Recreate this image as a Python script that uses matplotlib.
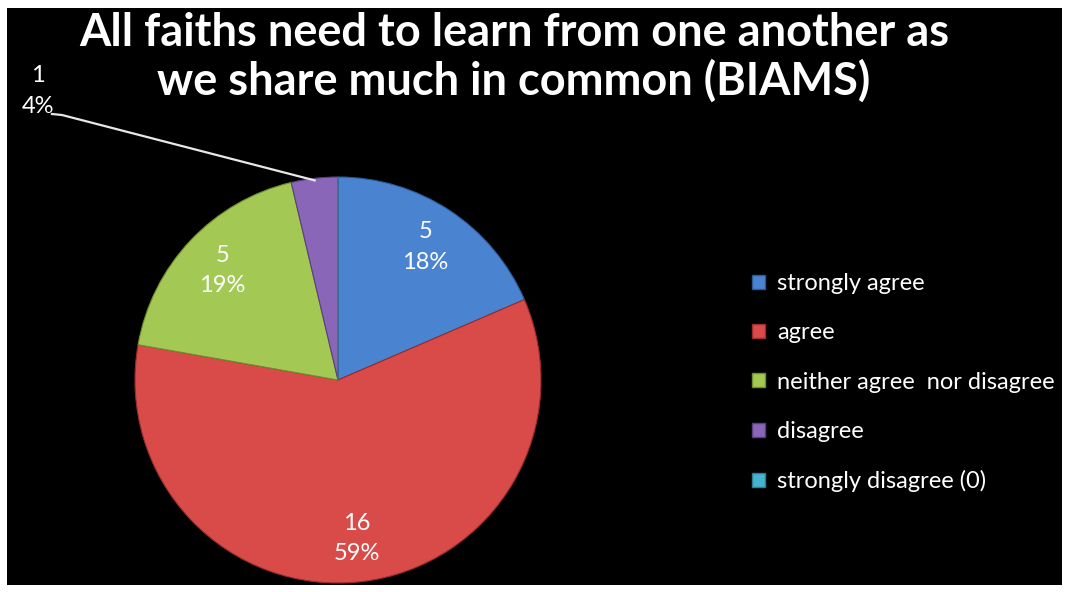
import numpy as np
import matplotlib
matplotlib.use("Agg")
from matplotlib import pyplot as plt
from matplotlib.patches import Patch

# data
categories = ["strongly agree", "agree", "neither agree  nor disagree",
              "disagree", "strongly disagree (0)"]
counts = [5, 16, 5, 1, 0]
pct_labels = ["18%", "59%", "19%", "4%", "0%"]
colors = ["#4a84d0", "#d84b48", "#a3c954", "#8a66b8", "#47b3cc"]
edges = ["#2c5a96", "#9a2c2a", "#6f8f30", "#5a3f80", "#2a7f94"]

title = "All faiths need to learn from one another as\nwe share much in common (BIAMS)"

plt.rcParams['font.family'] = ['Lato', 'DejaVu Sans']

W, H = 1067, 592
fig = plt.figure(figsize=(W / 100, H / 100), dpi=100, facecolor="white")

# black panel inside a thin white frame
bg = fig.add_axes([7 / W, 1 - 585 / H, (1062 - 7) / W, (585 - 8) / H])
bg.set_facecolor("black")
bg.set_xticks([])
bg.set_yticks([])
for s in bg.spines.values():
    s.set_visible(False)

# pie axes: centre at (338, 380) px, radius ~203 px
cx, cy, r = 338, 380, 203
ax = fig.add_axes([(cx - r) / W, 1 - (cy + r) / H, 2 * r / W, 2 * r / H])

wedges, _ = ax.pie(counts, colors=colors, startangle=90, counterclock=False,
                   radius=1, wedgeprops=dict(linewidth=0.8))
for w, e in zip(wedges, edges):
    w.set_edgecolor(e)
ax.set_xlim(-1, 1)
ax.set_ylim(-1, 1)
ax.axis("off")

# data labels
for i, w in enumerate(wedges):
    if counts[i] == 0:
        continue
    ang = np.deg2rad((w.theta1 + w.theta2) / 2)
    txt = "%d\n%s" % (counts[i], pct_labels[i])
    if counts[i] >= 2:
        ax.text(0.785 * np.cos(ang), 0.785 * np.sin(ang), txt, color="white",
                fontsize=17, ha="center", va="center", linespacing=1.55)
    else:
        # small slice: label outside with a leader line
        lx, ly = (38 - cx) / r, (cy - 91) / r
        ax.text(lx, ly, txt, color="white", fontsize=17, ha="center",
                va="center", linespacing=1.55, clip_on=False)
        ex, ey = np.cos(ang) * 0.99, np.sin(ang) * 0.99
        ax.plot([(52 - cx) / r, (62 - cx) / r, ex],
                [(cy - 114) / r, (cy - 115) / r, ey],
                color="#e8e8e8", lw=1.6, clip_on=False)

fig.text(514 / W, 1 - 57 / H, title, color="white", fontsize=32.5,
         fontweight="bold", ha="center", va="center", linespacing=1.15)

handles = [Patch(facecolor=c, edgecolor=e) for c, e in zip(colors, edges)]
leg = fig.legend(handles, categories, loc="upper left",
                 bbox_to_anchor=(752 / W, 1 - 273 / H), frameon=False,
                 fontsize=17, labelcolor="white", handlelength=0.55,
                 handleheight=0.55, handletextpad=0.5, labelspacing=1.2,
                 borderpad=0, borderaxespad=0)

fig.savefig("out.png", dpi=100, facecolor=fig.get_facecolor())
